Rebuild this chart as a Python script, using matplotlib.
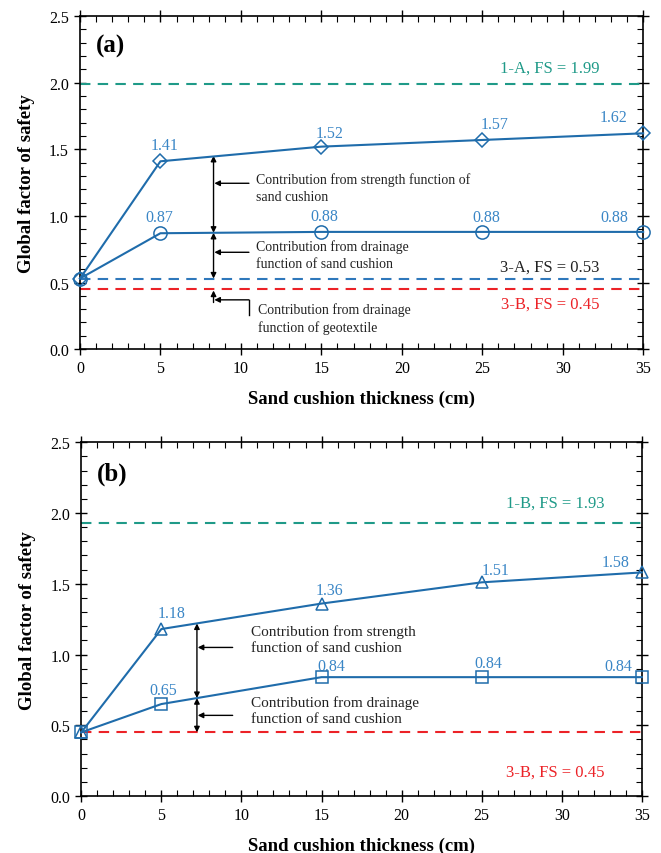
import numpy as np
import matplotlib
matplotlib.use("Agg")
import matplotlib.pyplot as plt
from matplotlib.ticker import MultipleLocator

plt.rcParams['font.family'] = ['Liberation Serif', 'DejaVu Serif']
plt.rcParams['mathtext.fontset'] = 'stix'

# sand cushion thickness (cm)
thickness = [0, 5, 15, 25, 35]

# panel (a)
fs_a_strength = [0.53, 1.41, 1.52, 1.57, 1.62]   # diamonds
fs_a_drainage = [0.53, 0.87, 0.88, 0.88, 0.88]   # circles
fs_1a = 1.99
fs_3a = 0.53
fs_3b = 0.45

# panel (b)
fs_b_strength = [0.45, 1.18, 1.36, 1.51, 1.58]   # triangles
fs_b_drainage = [0.45, 0.65, 0.84, 0.84, 0.84]   # squares
fs_1b = 1.93

LINE = '#1f6cab'
LBL = '#3a86c6'
TEAL = '#1f9a88'
RED = '#ec2227'
BLUE_DASH = '#2f78bb'
NOTE = '#222222'

# label offsets in points (dx, dy)
off_a_str = [None, (3, 6), (6, 4), (9, 6), (-21, 6)]
off_a_dr = [None, (-1, 6), (2, 6), (3, 5), (-21, 5)]
off_b_str = [None, (7, 5.5), (6, 4), (10, 3), (-19, 2)]
off_b_dr = [None, (1, 4), (7, 2.5), (5, 4.5), (-17, 2.5)]

fig = plt.figure(figsize=(6.61, 8.54), dpi=100)
ax_a = fig.add_axes([0.121, 0.590, 0.852, 0.390])
ax_b = fig.add_axes([0.123, 0.0667, 0.848, 0.4143])


def style_axes(ax):
    ax.set_xlim(0, 35)
    ax.set_ylim(0, 2.5)
    ax.xaxis.set_major_locator(MultipleLocator(5))
    ax.xaxis.set_minor_locator(MultipleLocator(1))
    ax.yaxis.set_major_locator(MultipleLocator(0.5))
    ax.yaxis.set_minor_locator(MultipleLocator(0.1))
    ax.yaxis.set_major_formatter(matplotlib.ticker.FormatStrFormatter('%.1f'))
    ax.tick_params(which='major', direction='inout', length=8, width=1,
                   top=True, right=True, labelsize=11.5, pad=4)
    ax.tick_params(which='minor', direction='in', length=4, width=0.8,
                   top=True, right=True)
    for s in ax.spines.values():
        s.set_linewidth(1.2)
    ax.set_xlabel('Sand cushion thickness (cm)', fontsize=13.5,
                  fontweight='bold', labelpad=10)
    ax.set_ylabel('Global factor of safety', fontsize=13.5,
                  fontweight='bold', labelpad=10)


def value_labels(ax, ys, offs):
    for x, y, o in zip(thickness, ys, offs):
        if o is None:
            continue
        ax.annotate(f'{y:.2f}', (x, y), xytext=o, textcoords='offset points',
                    ha='center', va='bottom', color=LBL, fontsize=11.5)


def dbl_arrow(ax, x, y0, y1):
    ax.annotate('', xy=(x, y1), xytext=(x, y0),
                arrowprops=dict(arrowstyle='<|-|>', color='black', lw=1,
                                mutation_scale=8, shrinkA=0, shrinkB=0))


def left_arrow(ax, x0, x1, y):
    ax.annotate('', xy=(x1, y), xytext=(x0, y),
                arrowprops=dict(arrowstyle='-|>', color='black', lw=1,
                                mutation_scale=8, shrinkA=0, shrinkB=0))


# ---------------- panel (a) ----------------
style_axes(ax_a)
ax_a.axhline(fs_1a, color=TEAL, ls=(0, (5, 3.5)), lw=1.5)
ax_a.axhline(fs_3a, color=BLUE_DASH, ls=(0, (5, 3.5)), lw=1.5)
ax_a.axhline(fs_3b, color=RED, ls=(0, (5, 3.5)), lw=1.5)
ax_a.plot(thickness, fs_a_strength, color=LINE, lw=1.5, marker='D', ms=7,
          mfc='none', mec=LINE, mew=1.1, clip_on=False, zorder=4)
ax_a.plot(thickness, fs_a_drainage, color=LINE, lw=1.5, marker='o', ms=9.5,
          mfc='none', mec=LINE, mew=1.1, clip_on=False, zorder=4)
value_labels(ax_a, fs_a_strength, off_a_str)
value_labels(ax_a, fs_a_drainage, off_a_dr)

ax_a.text(29.2, 2.11, '1-A, FS = 1.99', color=TEAL, fontsize=12,
          ha='center', va='center')
ax_a.text(29.2, 0.62, '3-A, FS = 0.53', color=NOTE, fontsize=12,
          ha='center', va='center')
ax_a.text(29.2, 0.34, '3-B, FS = 0.45', color=RED, fontsize=12,
          ha='center', va='center')
ax_a.text(1.0, 2.28, '(a)', fontsize=18, fontweight='bold',
          ha='left', va='center')

xa = 8.3
ya_top = np.interp(xa, thickness, fs_a_strength) + 0.005
ya_mid = np.interp(xa, thickness, fs_a_drainage)
dbl_arrow(ax_a, xa, ya_top, ya_mid)
dbl_arrow(ax_a, xa, ya_mid, fs_3a)
ax_a.annotate('', xy=(xa, fs_3b - 0.01), xytext=(xa, 0.35),
              arrowprops=dict(arrowstyle='-|>', color='black', lw=1,
                              mutation_scale=8, shrinkA=0, shrinkB=0))
left_arrow(ax_a, 10.5, xa + 0.05, 1.245)
left_arrow(ax_a, 10.5, xa + 0.05, 0.727)
left_arrow(ax_a, 10.5, xa + 0.05, 0.37)
ax_a.plot([10.5, 10.5], [0.37, 0.26], color='black', lw=1)

ax_a.text(10.95, 1.21, 'Contribution from strength function of\nsand cushion',
          fontsize=10, linespacing=1.4, ha='left', va='center', color=NOTE)
ax_a.text(10.95, 0.71, 'Contribution from drainage\nfunction of sand cushion',
          fontsize=10, linespacing=1.4, ha='left', va='center', color=NOTE)
ax_a.text(11.05, 0.23, 'Contribution from drainage\nfunction of geotextile',
          fontsize=10, linespacing=1.4, ha='left', va='center', color=NOTE)

# ---------------- panel (b) ----------------
style_axes(ax_b)
ax_b.axhline(fs_1b, color=TEAL, ls=(0, (5, 3.5)), lw=1.5)
ax_b.axhline(fs_3b, color=RED, ls=(0, (5, 3.5)), lw=1.5)
ax_b.plot(thickness, fs_b_strength, color=LINE, lw=1.5, marker='^', ms=9,
          mfc='none', mec=LINE, mew=1.1, clip_on=False, zorder=4)
ax_b.plot(thickness, fs_b_drainage, color=LINE, lw=1.5, marker='s', ms=8,
          mfc='none', mec=LINE, mew=1.1, clip_on=False, zorder=4)
value_labels(ax_b, fs_b_strength, off_b_str)
value_labels(ax_b, fs_b_drainage, off_b_dr)

ax_b.text(29.6, 2.07, '1-B, FS = 1.93', color=TEAL, fontsize=12,
          ha='center', va='center')
ax_b.text(29.6, 0.17, '3-B, FS = 0.45', color=RED, fontsize=12,
          ha='center', va='center')
ax_b.text(1.0, 2.28, '(b)', fontsize=18, fontweight='bold',
          ha='left', va='center')

xb = 7.22
yb_top = np.interp(xb, thickness, fs_b_strength)
yb_mid = np.interp(xb, thickness, fs_b_drainage)
dbl_arrow(ax_b, xb, yb_top, yb_mid)
dbl_arrow(ax_b, xb, yb_mid, fs_3b)
left_arrow(ax_b, 9.45, xb + 0.05, 1.05)
left_arrow(ax_b, 9.45, xb + 0.05, 0.57)

ax_b.text(10.6, 1.11, 'Contribution from strength\nfunction of sand cushion',
          fontsize=11, linespacing=1.3, ha='left', va='center', color=NOTE)
ax_b.text(10.6, 0.61, 'Contribution from drainage\nfunction of sand cushion',
          fontsize=11, linespacing=1.3, ha='left', va='center', color=NOTE)

fig.savefig('out.png', dpi=100)
